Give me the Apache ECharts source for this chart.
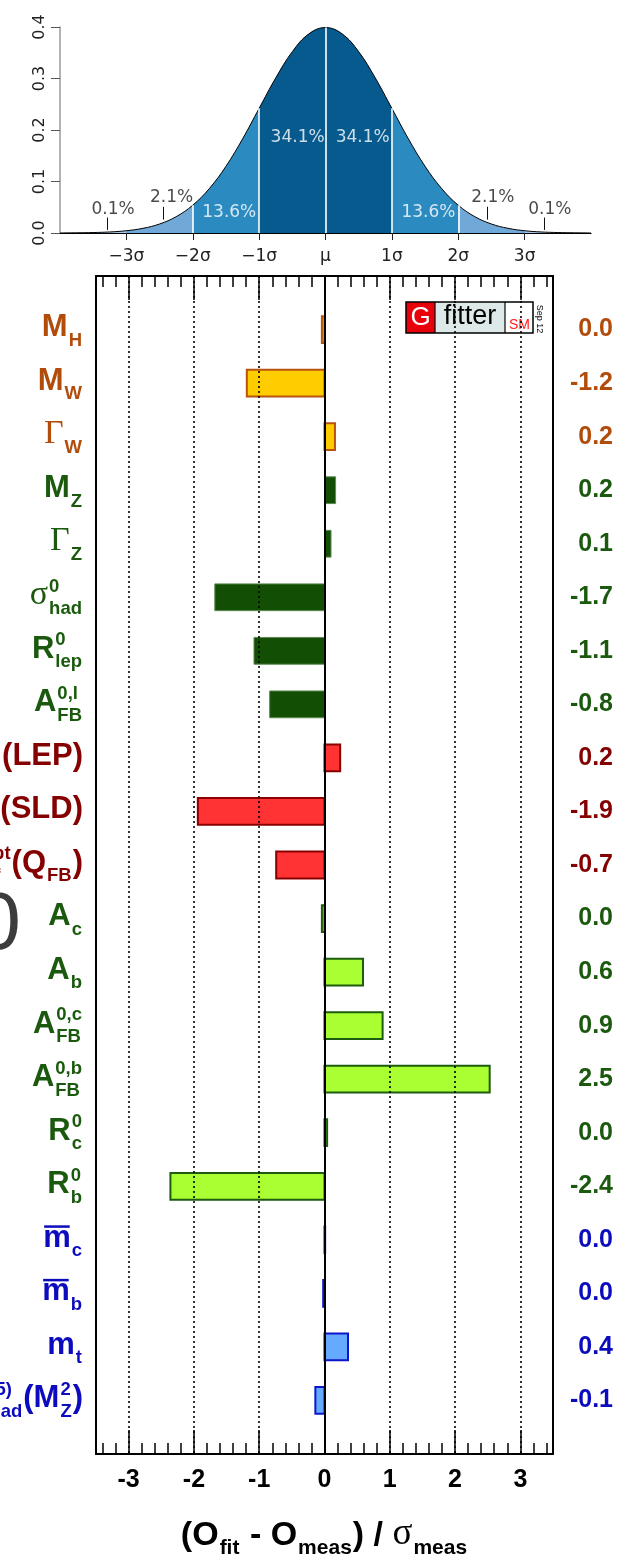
<!DOCTYPE html>
<html>
<head>
<meta charset="utf-8">
<title>Pull plot</title>
<script src="https://cdn.jsdelivr.net/npm/echarts@6/dist/echarts.min.js"></script>
<style>
  html, body { margin: 0; padding: 0; background: #ffffff; }
  #chart { width: 634px; height: 1558px; }
</style>
</head>
<body>
<div id="chart"></div>
<script>
// ---------- top panel: standard normal density, in units of sigma ----------
const pdfX = [-4, -3.75, -3.5, -3.25, -3, -2.75, -2.5, -2.25, -2, -1.75, -1.5, -1.25, -1, -0.75, -0.5, -0.25,
  0, 0.25, 0.5, 0.75, 1, 1.25, 1.5, 1.75, 2, 2.25, 2.5, 2.75, 3, 3.25, 3.5, 3.75, 4];
const pdfY = [0.0001, 0.0004, 0.0009, 0.0020, 0.0044, 0.0091, 0.0175, 0.0317, 0.0540, 0.0863, 0.1295, 0.1826, 0.2420, 0.3011, 0.3521, 0.3867,
  0.3989, 0.3867, 0.3521, 0.3011, 0.2420, 0.1826, 0.1295, 0.0863, 0.0540, 0.0317, 0.0175, 0.0091, 0.0044, 0.0020, 0.0009, 0.0004, 0.0001];
const sigmaTicks = [-3, -2, -1, 0, 1, 2, 3];
const sigmaLabels = ['−3σ', '−2σ', '−1σ', 'μ', '1σ', '2σ', '3σ'];
const bandColors = ['#a8cae8', '#70a8d7', '#2b8bc1', '#075a8d', '#2b8bc1', '#70a8d7', '#a8cae8'];
const dividerX = [-2, -1, 0, 1, 2];
const shareText = ['0.1%', '2.1%', '13.6%', '34.1%', '34.1%', '13.6%', '2.1%', '0.1%'];
const shareX = [-3.2, -2.32, -1.45, -0.42, 0.56, 1.55, 2.52, 3.38];
const shareY = [0.046, 0.068, 0.040, 0.186, 0.186, 0.040, 0.068, 0.046];
const shareWhite = [false, false, true, true, true, true, false, false];
const leaderX = [-3.29, -2.44, 2.44, 3.29];
const leaderY0 = [0.006, 0.026, 0.026, 0.006];
const leaderY1 = [0.030, 0.051, 0.051, 0.030];

// ---------- main panel: pulls of the fit observables ----------
const observables = ['MH', 'MW', 'GammaW', 'MZ', 'GammaZ', 'sigmaHad', 'Rlep', 'AFBl', 'AlLEP', 'AlSLD', 'sin2QFB',
  'Ac', 'Ab', 'AFBc', 'AFBb', 'Rc', 'Rb', 'mc', 'mb', 'mt', 'dalpha'];
const pulls = [-0.04, -1.19, 0.16, 0.17, 0.10, -1.68, -1.08, -0.84, 0.24, -1.94, -0.74,
  -0.04, 0.59, 0.89, 2.53, 0.04, -2.36, 0.01, -0.02, 0.36, -0.14];
const groups = ['o', 'o', 'o', 'g', 'g', 'g', 'g', 'g', 'r', 'r', 'r', 'l', 'l', 'l', 'l', 'l', 'l', 'b', 'b', 'b', 'b'];
const pullTicks = [-3, -2, -1, 0, 1, 2, 3];
const gridPulls = [-3, -2, -1, 1, 2, 3];

// label markup: m = bold sans, g = serif glyph, ov = overlined, sp/sb = super/subscript
const rowLabels = [
  [{ m: 'M' }, { sb: 'H' }],
  [{ m: 'M' }, { sb: 'W' }],
  [{ g: 'Γ' }, { sb: 'W' }],
  [{ m: 'M' }, { sb: 'Z' }],
  [{ g: 'Γ' }, { sb: 'Z' }],
  [{ g: 'σ' }, { sp: '0', sb: 'had' }],
  [{ m: 'R' }, { sp: '0', sb: 'lep' }],
  [{ m: 'A' }, { sp: '0,l', sb: 'FB' }],
  [{ m: 'A' }, { sb: 'l' }, { m: '(LEP)' }],
  [{ m: 'A' }, { sb: 'l' }, { m: '(SLD)' }],
  [{ m: 'sin' }, { sp: '2' }, { g: 'θ' }, { sp: 'lept', sb: 'eff' }, { m: '(Q' }, { sb: 'FB' }, { m: ')' }],
  [{ m: 'A' }, { sb: 'c' }],
  [{ m: 'A' }, { sb: 'b' }],
  [{ m: 'A' }, { sp: '0,c', sb: 'FB' }],
  [{ m: 'A' }, { sp: '0,b', sb: 'FB' }],
  [{ m: 'R' }, { sp: '0', sb: 'c' }],
  [{ m: 'R' }, { sp: '0', sb: 'b' }],
  [{ ov: 'm' }, { sb: 'c' }],
  [{ ov: 'm' }, { sb: 'b' }],
  [{ m: 'm' }, { sb: 't' }],
  [{ m: 'Δα' }, { sp: '(5)', sb: 'had' }, { m: '(M' }, { sp: '2', sb: 'Z' }, { m: ')' }]
];
const rowPos = observables.map((_, i) => i + 1);

const SANS = '"Liberation Sans", Arial, Helvetica, sans-serif';
const SERIF = '"Liberation Serif", "Times New Roman", serif';
const DEJAVU = '"DejaVu Sans", sans-serif';

const textColor = { o: '#b24c0b', g: '#1b5a0e', r: '#850000', l: '#1b5a0e', b: '#0c0cbe' };
const barStyle = {
  o: { fill: '#ffcc00', stroke: '#b8520c', lineWidth: 2 },
  g: { fill: '#124e03', stroke: '#5e8a55', lineWidth: 1 },
  r: { fill: '#ff3333', stroke: '#8a0000', lineWidth: 2 },
  l: { fill: '#aaff33', stroke: '#1d5b0e', lineWidth: 2 },
  b: { fill: '#66aaff', stroke: '#0b16cc', lineWidth: 2 }
};

function fmtPull(v) {
  const s = v.toFixed(1);
  return s === '-0.0' ? '0.0' : s;
}

const minorTicks = [];
for (let k = -17; k <= 17; k++) {
  if (k % 5 !== 0) minorTicks.push(Math.round(k * 2) / 10);
}

const chart = echarts.init(document.getElementById('chart'), null, { renderer: 'canvas' });

const rightRich = {};
Object.keys(textColor).forEach(k => {
  rightRich[k] = { color: textColor[k], fontFamily: SANS, fontWeight: 'bold', fontSize: 25 };
});

const majorTickStyle = { color: '#000', width: 1.5 };

chart.setOption({
  animation: false,
  backgroundColor: '#ffffff',
  grid: [
    { left: 60, top: 27, width: 531, height: 206, outerBoundsMode: 'none', containLabel: false },
    { left: 96, top: 276, width: 457, height: 1178, outerBoundsMode: 'none', containLabel: false }
  ],
  visualMap: {
    show: false,
    type: 'piecewise',
    seriesIndex: 0,
    dimension: 0,
    pieces: [
      { lt: -3, color: bandColors[0] },
      { gte: -3, lt: -2, color: bandColors[1] },
      { gte: -2, lt: -1, color: bandColors[2] },
      { gte: -1, lt: 1, color: bandColors[3] },
      { gte: 1, lt: 2, color: bandColors[4] },
      { gte: 2, lt: 3, color: bandColors[5] },
      { gte: 3, color: bandColors[6] }
    ]
  },
  xAxis: [
    {
      gridIndex: 0, type: 'value', min: -4, max: 4,
      axisLine: { show: true, onZero: false, lineStyle: { color: '#000', width: 1.2 } },
      axisTick: { show: true, customValues: sigmaTicks, length: 7, lineStyle: { color: '#222', width: 1 } },
      axisLabel: {
        customValues: sigmaTicks,
        formatter: v => sigmaLabels[sigmaTicks.indexOf(v)],
        fontFamily: DEJAVU, fontSize: 17, color: '#222', margin: 15
      },
      splitLine: { show: false }
    },
    {
      gridIndex: 1, type: 'value', min: -3.5, max: 3.5, position: 'bottom',
      axisLine: { show: true, onZero: false, lineStyle: { color: '#000', width: 2 } },
      axisTick: { show: true, inside: true, length: 24, customValues: pullTicks, lineStyle: majorTickStyle },
      axisLabel: {
        customValues: pullTicks, formatter: v => String(v),
        fontFamily: SANS, fontWeight: 'bold', fontSize: 25, color: '#000', margin: 14
      },
      splitLine: { show: false }
    },
    {
      gridIndex: 1, type: 'value', min: -3.5, max: 3.5, position: 'bottom',
      axisLine: { show: false, onZero: false },
      axisTick: { show: true, inside: true, length: 11, customValues: minorTicks, lineStyle: majorTickStyle },
      axisLabel: { show: false },
      splitLine: { show: false }
    },
    {
      gridIndex: 1, type: 'value', min: -3.5, max: 3.5, position: 'top',
      axisLine: { show: true, onZero: false, lineStyle: { color: '#000', width: 2 } },
      axisTick: { show: true, inside: true, length: 24, customValues: pullTicks, lineStyle: majorTickStyle },
      axisLabel: { show: false },
      splitLine: { show: false }
    },
    {
      gridIndex: 1, type: 'value', min: -3.5, max: 3.5, position: 'top',
      axisLine: { show: false, onZero: false },
      axisTick: { show: true, inside: true, length: 11, customValues: minorTicks, lineStyle: majorTickStyle },
      axisLabel: { show: false },
      splitLine: { show: false }
    }
  ],
  yAxis: [
    {
      gridIndex: 0, type: 'value', min: 0, max: 0.4, interval: 0.1,
      axisLine: { show: true, onZero: false, lineStyle: { color: '#9a9a9a', width: 1.5 } },
      axisTick: { show: true, length: 9, lineStyle: { color: '#555', width: 1 } },
      axisLabel: {
        rotate: 90, formatter: v => v.toFixed(1),
        fontFamily: DEJAVU, fontSize: 16, color: '#222', margin: 12
      },
      splitLine: { show: false }
    },
    {
      gridIndex: 1, type: 'value', min: 0, max: 22, inverse: true, position: 'left',
      axisLine: { show: true, onZero: false, lineStyle: { color: '#000', width: 2 } },
      axisTick: { show: false }, axisLabel: { show: false }, splitLine: { show: false }
    },
    {
      gridIndex: 1, type: 'value', min: 0, max: 22, inverse: true, position: 'right',
      axisLine: { show: true, onZero: false, lineStyle: { color: '#000', width: 2 } },
      axisTick: { show: false },
      axisLabel: {
        customValues: rowPos,
        formatter: v => '{' + groups[v - 1] + '|' + fmtPull(pulls[v - 1]) + '}',
        rich: rightRich,
        fontFamily: SANS, fontWeight: 'bold', fontSize: 25,
        align: 'right', margin: 60
      },
      splitLine: { show: false }
    }
  ],
  series: [
    {
      // density curve with sigma bands
      type: 'line', xAxisIndex: 0, yAxisIndex: 0, z: 2,
      data: pdfX.map((x, i) => [x, pdfY[i]]),
      smooth: 0.4, symbol: 'none',
      lineStyle: { color: '#000', width: 1 },
      areaStyle: { opacity: 1 },
      markLine: {
        silent: true, symbol: 'none', label: { show: false },
        lineStyle: { color: '#ffffff', width: 1.6, type: 'solid' },
        data: dividerX.map(x => [
          { coord: [x, 0] },
          { coord: [x, pdfY[pdfX.indexOf(x)]] }
        ])
      }
    },
    {
      // leader marks for the tail percentages
      type: 'line', xAxisIndex: 0, yAxisIndex: 0, data: [], z: 3,
      markLine: {
        silent: true, symbol: 'none', label: { show: false },
        lineStyle: { color: '#111', width: 1, type: 'solid' },
        data: leaderX.map((x, i) => [{ coord: [x, leaderY0[i]] }, { coord: [x, leaderY1[i]] }])
      }
    },
    {
      // band percentages
      type: 'scatter', xAxisIndex: 0, yAxisIndex: 0, z: 4, symbolSize: 0,
      data: shareText.map((t, i) => ({
        value: [shareX[i], shareY[i]], name: t,
        label: { color: shareWhite[i] ? '#ffffff' : '#1a1a1a' }
      })),
      label: {
        show: true, position: 'inside', formatter: '{b}',
        fontFamily: DEJAVU, fontSize: 17
      }
    },
    {
      // dotted reference lines at integer pulls
      type: 'line', xAxisIndex: 1, yAxisIndex: 1, data: [], z: 1,
      markLine: {
        silent: true, symbol: 'none', label: { show: false },
        lineStyle: { color: '#000', width: 1.6, type: [2, 3] },
        data: gridPulls.map(v => ({ xAxis: v }))
      }
    },
    {
      // pull bars
      type: 'custom', xAxisIndex: 1, yAxisIndex: 1, z: 2,
      data: pulls.map((v, i) => [v, rowPos[i], i]),
      encode: { x: 0, y: 1 },
      renderItem: function (params, api) {
        const v = api.value(0), row = api.value(1), idx = api.value(2);
        const p0 = api.coord([0, row]);
        const p1 = api.coord([v, row]);
        const h = api.size([0, 0.5])[1];
        const st = barStyle[groups[idx]];
        return {
          type: 'rect',
          shape: { x: Math.min(p0[0], p1[0]), y: p0[1] - h / 2, width: Math.abs(p1[0] - p0[0]), height: h },
          style: { fill: st.fill, stroke: st.stroke, lineWidth: st.lineWidth }
        };
      }
    },
    {
      // zero line
      type: 'line', xAxisIndex: 1, yAxisIndex: 1, data: [], z: 5,
      markLine: {
        silent: true, symbol: 'none', label: { show: false },
        lineStyle: { color: '#000', width: 2, type: 'solid' },
        data: [{ xAxis: 0 }]
      }
    }
  ]
});

// ---------- typeset labels (sub/superscripts) as graphic text ----------
const measureCtx = document.createElement('canvas').getContext('2d');
function textWidth(str, font) {
  measureCtx.font = font;
  return measureCtx.measureText(str).width;
}

function typeset(tokens, opt) {
  const fMain = 'bold ' + opt.F + 'px ' + SANS;
  const fSerif = opt.FS + 'px ' + SERIF;
  const fSmall = 'bold ' + opt.S + 'px ' + SANS;
  const runs = [];
  const bars = [];
  let x = 0;
  tokens.forEach(tok => {
    if (tok.m !== undefined || tok.g !== undefined || tok.ov !== undefined) {
      const serif = tok.g !== undefined;
      const text = serif ? tok.g : (tok.m !== undefined ? tok.m : tok.ov);
      const font = serif ? fSerif : fMain;
      const w = textWidth(text, font);
      runs.push({ text, font, size: serif ? opt.FS : opt.F, base: opt.baseMain, dx: x });
      if (tok.ov !== undefined) bars.push({ dx: x + 1, w: w - 2 });
      x += w;
    } else {
      const wSup = tok.sp ? textWidth(tok.sp, fSmall) : 0;
      const wSub = tok.sb ? textWidth(tok.sb, fSmall) : 0;
      x += 1;
      if (tok.sp) runs.push({ text: tok.sp, font: fSmall, size: opt.S, base: opt.baseSup, dx: x });
      if (tok.sb) runs.push({ text: tok.sb, font: fSmall, size: opt.S, base: opt.baseSub, dx: x });
      x += Math.max(wSup, wSub) + 1;
    }
  });
  const left = opt.anchor === 'center' ? opt.x - x / 2 : opt.x - x;
  const els = runs.map(r => ({
    type: 'text', silent: true, x: left + r.dx, y: r.base - 0.31 * r.size,
    style: { text: r.text, font: r.font, fill: opt.color, align: 'left', verticalAlign: 'middle' }
  }));
  bars.forEach(b => els.push({
    type: 'rect', silent: true,
    shape: { x: left + b.dx, y: opt.overY, width: b.w, height: 2.5 },
    style: { fill: opt.color }
  }));
  return els;
}

const elements = [];
rowLabels.forEach((tokens, i) => {
  const cy = chart.convertToPixel({ yAxisIndex: 1 }, rowPos[i]);
  elements.push(...typeset(tokens, {
    F: 31, S: 18.5, FS: 34, x: 83, anchor: 'right',
    baseMain: cy + 8, baseSub: cy + 17, baseSup: cy - 5, overY: cy - 14.5,
    color: textColor[groups[i]]
  }));
});

// axis title
const cx = chart.convertToPixel({ xAxisIndex: 1 }, 0);
elements.push(...typeset(
  [{ m: '(O' }, { sb: 'fit' }, { m: ' - O' }, { sb: 'meas' }, { m: ') / ' }, { g: 'σ' }, { sb: 'meas' }],
  { F: 34, S: 21, FS: 37, x: cx, anchor: 'center', baseMain: 1546, baseSub: 1555, baseSup: 1530, overY: 0, color: '#000' }
));

// Gfitter badge
elements.push(
  { type: 'rect', silent: true, shape: { x: 406, y: 302, width: 29, height: 31 }, style: { fill: '#e8000b' } },
  { type: 'rect', silent: true, shape: { x: 435, y: 302, width: 70, height: 31 }, style: { fill: '#dde9e9' } },
  { type: 'rect', silent: true, shape: { x: 505, y: 302, width: 28, height: 31 }, style: { fill: '#ffffff' } },
  { type: 'rect', silent: true, shape: { x: 406, y: 302, width: 127, height: 31 }, style: { fill: 'none', stroke: '#000', lineWidth: 1.5 } },
  { type: 'line', silent: true, shape: { x1: 435, y1: 302, x2: 435, y2: 333 }, style: { stroke: '#000', lineWidth: 1.2 } },
  { type: 'line', silent: true, shape: { x1: 505, y1: 302, x2: 505, y2: 333 }, style: { stroke: '#000', lineWidth: 1.2 } },
  { type: 'text', silent: true, x: 420.5, y: 318, style: { text: 'G', font: '26px ' + SANS, fill: '#ffffff', align: 'center', verticalAlign: 'middle' } },
  { type: 'text', silent: true, x: 470, y: 317, style: { text: 'fitter', font: '27px ' + SANS, fill: '#000', align: 'center', verticalAlign: 'middle' } },
  { type: 'text', silent: true, x: 519.5, y: 325, style: { text: 'SM', font: '14px ' + SANS, fill: '#ff1a1a', align: 'center', verticalAlign: 'middle' } },
  { type: 'text', silent: true, x: 539, y: 319, rotation: -Math.PI / 2, style: { text: 'Sep 12', font: '9px ' + SANS, fill: '#000', align: 'center', verticalAlign: 'middle' } }
);

// large grey glyph at the left margin
elements.push({
  type: 'text', silent: true, x: -2, y: 926,
  style: { text: '0', font: '82px ' + SANS, fill: '#3c3c3c', align: 'center', verticalAlign: 'middle' }
});

chart.setOption({ graphic: { elements: elements } });
</script>
</body>
</html>
